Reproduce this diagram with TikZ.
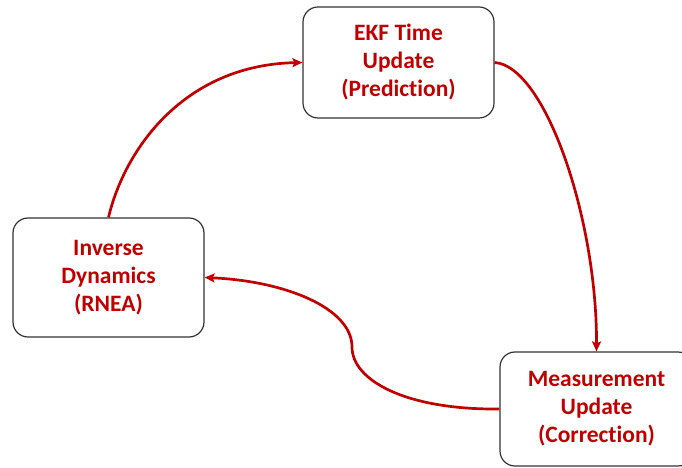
\documentclass[tikz,border=0pt]{standalone}
\usepackage{fontspec}
\setmainfont{Carlito}[Ligatures=NoCommon]
\usetikzlibrary{arrows.meta}
\definecolor{dred}{HTML}{C00000}
\definecolor{bord}{HTML}{333333}
\tikzset{
  box/.style={draw=bord, line width=1.2pt, rounded corners=15pt, fill=white,
    align=center, text=dred, font=\fontsize{23.5}{28}\selectfont\bfseries,
    inner sep=0pt},
  conn/.style={draw=dred, line width=2.7pt, -{Stealth[length=10pt,width=9pt,inset=2pt]}}
}
\begin{document}
\begin{tikzpicture}[x=1pt,y=1pt]
\useasboundingbox (0,0) rectangle (682,468);
\begin{scope}
\clip (0,0) rectangle (682,468);
\node[box, minimum width=191pt, minimum height=111pt] (ekf) at (398.5,405.5) {EKF Time\\Update\\(Prediction)};
\node[box, minimum width=191pt, minimum height=119pt] (inv) at (108.5,190.5) {Inverse\\Dynamics\\(RNEA)};
\node[box, minimum width=193pt, minimum height=114pt] (meas) at (596.5,59) {Measurement\\Update\\(Correction)};
\coordinate (mid) at (352,121);
\draw[conn] (inv.north) .. controls (125,320) and (185,403) .. (ekf.west);
\draw[conn] (ekf.east) .. controls (545,402) and (597,250) .. (meas.north);
\draw[conn] (meas.west) .. controls (405,58) and (352,88) .. (mid) .. controls (352,160) and (285,187) .. (inv.east);
\end{scope}
\end{tikzpicture}
\end{document}
